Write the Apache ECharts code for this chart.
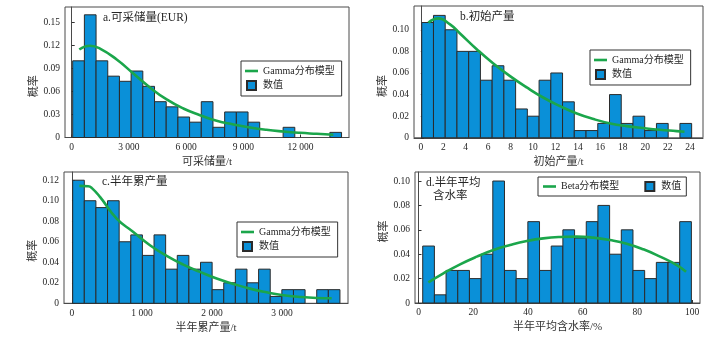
<!DOCTYPE html>
<html>
<head>
<meta charset="utf-8">
<script src="https://cdn.jsdelivr.net/npm/echarts@6/dist/echarts.min.js"></script>
<style>
  html, body { margin: 0; padding: 0; background: #fff; }
  #chart { width: 726px; height: 343px; }
</style>
</head>
<body>
<div id="chart"></div>
<script>
// a. 可采储量(EUR): histogram bins and fitted Gamma curve
const eurBinStart = 52;
const eurBinWidth = 613;
const eurFreq = [0.1, 0.16, 0.1, 0.08, 0.0733, 0.0867, 0.0667, 0.0467, 0.04, 0.0267, 0.02, 0.0467,
                 0.0133, 0.0333, 0.0333, 0.02, 0, 0, 0.0133, 0, 0, 0, 0.0067];
const eurFitX = [399, 960, 1484, 2360, 3230, 4106, 4980, 5852, 6728, 7600, 8475, 9350, 10210, 11096, 11970, 12850, 13720];
const eurFitY = [0.1148, 0.1196, 0.116, 0.1017, 0.0835, 0.0652, 0.0496, 0.0378, 0.0291, 0.0217, 0.017, 0.013, 0.010, 0.0078, 0.0061, 0.0048, 0.0035];
const eurTicksX = [0, 3000, 6000, 9000, 12000];
const eurTicksY = [0, 0.03, 0.06, 0.09, 0.12, 0.15];

// b. 初始产量
const ipBinStart = 0.08;
const ipBinWidth = 1.046;
const ipFreq = [0.1067, 0.1133, 0.1, 0.08, 0.08, 0.0533, 0.0667, 0.0533, 0.0267, 0.02, 0.0533, 0.06,
                0.0333, 0.0067, 0.0067, 0.0133, 0.04, 0.0133, 0.02, 0.0067, 0.0133, 0, 0.0133];
const ipFitX = [0.67, 1.56, 2.6, 3.49, 4.98, 6.46, 7.95, 9.44, 10.9, 12.4, 13.9, 15.4, 16.9, 18.35, 19.8, 21.3, 22.8, 23.5];
const ipFitY = [0.1065, 0.1105, 0.105, 0.0966, 0.082, 0.0688, 0.0571, 0.0466, 0.0373, 0.0293, 0.0225, 0.0173, 0.0133, 0.0108, 0.009, 0.0074, 0.0062, 0.0056];
const ipTicksX = [0, 2, 4, 6, 8, 10, 12, 14, 16, 18, 20, 22, 24];
const ipTicksY = [0, 0.02, 0.04, 0.06, 0.08, 0.10];

// c. 半年累产量
const cumBinStart = 10;
const cumBinWidth = 166;
const cumFreq = [0.12, 0.1, 0.0933, 0.1, 0.06, 0.0667, 0.0467, 0.0667, 0.0333, 0.0467, 0.0333, 0.04,
                 0.0133, 0.02, 0.0333, 0.02, 0.0333, 0.0067, 0.0133, 0.0133, 0, 0.0133, 0.0133];
const cumFitX = [105, 233, 281, 400, 638, 876, 1114, 1353, 1590, 1829, 2067, 2305, 2543, 2781, 3019, 3257, 3495, 3710];
const cumFitY = [0.1145, 0.1141, 0.1125, 0.1037, 0.0826, 0.0696, 0.0566, 0.0462, 0.0377, 0.0306, 0.0241, 0.0189, 0.0143, 0.0107, 0.0078, 0.0062, 0.0052, 0.0049];
const cumTicksX = [0, 1000, 2000, 3000];
const cumTicksY = [0, 0.02, 0.04, 0.06, 0.08, 0.10, 0.12];

// d. 半年平均含水率 with fitted Beta curve
const wcBinStart = 1.54;
const wcBinWidth = 4.27;
const wcFreq = [0.0467, 0.0067, 0.0267, 0.0267, 0.02, 0.04, 0.1, 0.0267, 0.02, 0.0667, 0.0267, 0.0467,
                0.06, 0.0533, 0.0667, 0.08, 0.04, 0.06, 0.0267, 0.02, 0.0333, 0.0333, 0.0667];
const wcFitX = [3.6, 9.1, 15.2, 21.3, 27.4, 33.5, 39.6, 45.6, 51.7, 57.8, 63.9, 70, 76.1, 82.2, 88.3, 94.4, 97.8];
const wcFitY = [0.0169, 0.0243, 0.0317, 0.038, 0.0434, 0.0475, 0.0508, 0.053, 0.0541, 0.0544, 0.0536, 0.0516, 0.0486, 0.044, 0.038, 0.0311, 0.0257];
const wcTicksX = [0, 20, 40, 60, 80, 100];
const wcTicksY = [0, 0.02, 0.04, 0.06, 0.08, 0.10];

const FONT = "'Liberation Serif', 'Noto Sans CJK SC', serif";
const BAR_FILL = '#0a90d8';
const BAR_EDGE = '#2b2b2b';
const FIT_GREEN = '#1ba64b';
const FRAME = '#4a4a4a';
const TEXT = '#262626';

function thousands(v) {
  return String(v).replace(/\B(?=(\d{3})+(?!\d))/g, ' ');
}
function prob(v) {
  return v === 0 ? '0' : v.toFixed(2);
}

// histogram bins -> [left edge, right edge, frequency]
function bins(start, width, freq) {
  const out = [];
  freq.forEach((f, i) => {
    if (f > 0) out.push([start + i * width, start + (i + 1) * width, f]);
  });
  return out;
}

function renderBin(params, api) {
  const topLeft = api.coord([api.value(0), api.value(2)]);
  const bottomRight = api.coord([api.value(1), 0]);
  return {
    type: 'rect',
    shape: {
      x: topLeft[0],
      y: topLeft[1],
      width: bottomRight[0] - topLeft[0],
      height: bottomRight[1] - topLeft[1]
    },
    style: api.style()
  };
}

function histSeries(idx, start, width, freq) {
  return {
    type: 'custom',
    name: '数值',
    xAxisIndex: idx,
    yAxisIndex: idx,
    renderItem: renderBin,
    encode: { x: [0, 1], y: 2 },
    itemStyle: { color: BAR_FILL, borderColor: BAR_EDGE, borderWidth: 1 },
    data: bins(start, width, freq),
    z: 2
  };
}

function fitSeries(idx, name, xs, ys) {
  return {
    type: 'line',
    name: name,
    xAxisIndex: idx,
    yAxisIndex: idx,
    smooth: true,
    symbol: 'none',
    showSymbol: false,
    lineStyle: { color: FIT_GREEN, width: 2.6 },
    itemStyle: { color: FIT_GREEN },
    data: xs.map((x, i) => [x, ys[i]]),
    z: 3
  };
}

function xAxis(idx, min, max, ticks, name, fmt) {
  return {
    gridIndex: idx,
    type: 'value',
    min: min,
    max: max,
    axisLine: { show: true, lineStyle: { color: FRAME, width: 1 } },
    axisTick: { show: true, inside: true, length: 3, customValues: ticks, lineStyle: { color: '#333' } },
    axisLabel: { customValues: ticks, formatter: fmt, fontSize: 9.5, color: TEXT, margin: 5, fontFamily: FONT },
    splitLine: { show: false },
    name: name,
    nameLocation: 'middle',
    nameGap: 19,
    nameTextStyle: { fontSize: 11, color: '#333', fontFamily: FONT }
  };
}

function yAxis(idx, max, ticks, shift) {
  return {
    gridIndex: idx,
    type: 'value',
    min: 0,
    max: max,
    axisLine: { show: true, lineStyle: { color: FRAME, width: 1 } },
    axisTick: { show: true, inside: true, length: 3, customValues: ticks, lineStyle: { color: '#333' } },
    axisLabel: { customValues: ticks, formatter: prob, fontSize: 9.5, color: TEXT, margin: 5, fontFamily: FONT },
    splitLine: { show: false },
    name: '概率',
    nameLocation: 'middle',
    nameGap: 16,
    nameTextStyle: {
      fontSize: 11, color: '#333', fontFamily: FONT,
      padding: shift >= 0 ? [0, shift, 0, 0] : [0, 0, 0, -shift]
    }
  };
}

const gridBox = { show: true, borderColor: FRAME, borderWidth: 1, backgroundColor: 'transparent', containLabel: false };

const titleStyle = { fontSize: 11.5, fontWeight: 'normal', color: TEXT, fontFamily: FONT };
const legendText = { fontSize: 10, color: TEXT, fontFamily: FONT };
const squareIcon = 'path://M0 0H10V10H0Z';
const lineIcon = 'path://M0 0H13V2.6H0Z';

function boxLegend(left, top, orient, padding, gap, fitName) {
  return {
    left: left, top: top, orient: orient, padding: padding, itemGap: gap,
    itemWidth: 13, itemHeight: 9, borderColor: '#333', borderWidth: 1,
    textStyle: legendText,
    data: [
      { name: fitName, icon: lineIcon, itemStyle: { color: FIT_GREEN, borderWidth: 0 } },
      { name: '数值', icon: squareIcon }
    ]
  };
}

const chart = echarts.init(document.getElementById('chart'), null, { renderer: 'canvas' });
chart.setOption({
  animation: false,
  backgroundColor: '#fff',
  title: [
    { text: 'a.可采储量(EUR)', left: 103, top: 12, padding: 0, textStyle: titleStyle },
    { text: 'b.初始产量', left: 460, top: 11, padding: 0, textStyle: titleStyle },
    { text: 'c.半年累产量', left: 102, top: 176, padding: 0, textStyle: titleStyle },
    { text: 'd.半年平均', left: 426, top: 177, padding: 0, textStyle: titleStyle },
    { text: '含水率', left: 433, top: 190.5, padding: 0, textStyle: titleStyle }
  ],
  legend: [
    boxLegend(241, 61, 'vertical', [5, 7, 5, 4], 4, 'Gamma分布模型'),
    boxLegend(590, 50, 'vertical', [5, 7, 5, 4], 4, 'Gamma分布模型'),
    boxLegend(237, 222, 'vertical', [5, 7, 5, 4], 4, 'Gamma分布模型'),
    boxLegend(538, 177, 'horizontal', [4, 5, 4, 5], 25, 'Beta分布模型')
  ],
  grid: [
    Object.assign({ left: 65, top: 7, width: 284, height: 130.5 }, gridBox),
    Object.assign({ left: 414, top: 6, width: 289, height: 131.8 }, gridBox),
    Object.assign({ left: 64, top: 172, width: 284, height: 131.3 }, gridBox),
    Object.assign({ left: 415, top: 172, width: 285, height: 131 }, gridBox)
  ],
  xAxis: [
    xAxis(0, -351, 14541, eurTicksX, '可采储量/t', thousands),
    xAxis(1, -0.61, 25.15, ipTicksX, '初始产量/t', String),
    xAxis(2, -114, 3943, cumTicksX, '半年累产量/t', thousands),
    xAxis(3, -1.28, 102.9, wcTicksX, '半年平均含水率/%', String)
  ],
  yAxis: [
    yAxis(0, 0.1702, eurTicksY, 28),
    yAxis(1, 0.122, ipTicksY, 28),
    yAxis(2, 0.128, cumTicksY, 26),
    yAxis(3, 0.1074, wcTicksY, -12)
  ],
  series: [
    histSeries(0, eurBinStart, eurBinWidth, eurFreq),
    fitSeries(0, 'Gamma分布模型', eurFitX, eurFitY),
    histSeries(1, ipBinStart, ipBinWidth, ipFreq),
    fitSeries(1, 'Gamma分布模型', ipFitX, ipFitY),
    histSeries(2, cumBinStart, cumBinWidth, cumFreq),
    fitSeries(2, 'Gamma分布模型', cumFitX, cumFitY),
    histSeries(3, wcBinStart, wcBinWidth, wcFreq),
    fitSeries(3, 'Beta分布模型', wcFitX, wcFitY)
  ]
});
</script>
</body>
</html>
